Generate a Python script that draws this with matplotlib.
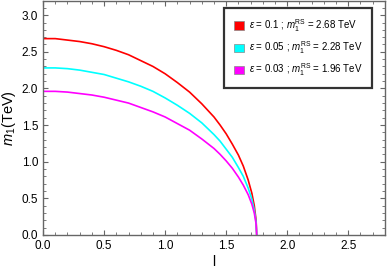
import matplotlib
matplotlib.use("Agg")
import matplotlib.pyplot as plt
from matplotlib.patches import Patch
from matplotlib.ticker import MultipleLocator

plt.rcParams['font.family'] = ['Liberation Sans', 'DejaVu Sans']
plt.rcParams['mathtext.fontset'] = 'custom'
plt.rcParams['mathtext.rm'] = 'Liberation Sans'
plt.rcParams['mathtext.it'] = 'Liberation Sans:italic'

l_vals = [0.0, 0.1, 0.2, 0.3, 0.4, 0.5, 0.6, 0.7, 0.8, 0.9, 1.0, 1.1, 1.2, 1.3, 1.4, 1.45,
          1.5, 1.55, 1.6, 1.64, 1.68, 1.71, 1.73, 1.745, 1.75]
m_red = [2.68, 2.68, 2.66, 2.64, 2.61, 2.57, 2.52, 2.46, 2.38, 2.30, 2.20, 2.08, 1.95, 1.79,
         1.61, 1.50, 1.38, 1.24, 1.09, 0.94, 0.75, 0.57, 0.40, 0.20, 0.0]
m_cyan = [2.28, 2.28, 2.27, 2.25, 2.22, 2.19, 2.14, 2.09, 2.03, 1.96, 1.87, 1.77, 1.66, 1.53,
          1.37, 1.28, 1.17, 1.06, 0.92, 0.80, 0.64, 0.49, 0.34, 0.17, 0.0]
m_mag = [1.96, 1.96, 1.95, 1.93, 1.91, 1.88, 1.84, 1.80, 1.74, 1.68, 1.61, 1.52, 1.43, 1.31,
         1.18, 1.10, 1.01, 0.91, 0.79, 0.68, 0.55, 0.42, 0.30, 0.15, 0.0]

labels = [r"$\epsilon$ = 0.1 ; $m_1^{\rm RS}$ = 2.68 TeV",
          r"$\epsilon$ = 0.05 ; $m_1^{\rm RS}$ = 2.28 TeV",
          r"$\epsilon$ = 0.03 ; $m_1^{\rm RS}$ = 1.96 TeV"]
colors = ['#ff0000', '#00ffff', '#ff00ff']

fig = plt.figure(figsize=(3.88, 2.70), dpi=100)
ax = fig.add_axes([0.111, 0.130, 0.881, 0.868])

for m, c in zip([m_red, m_cyan, m_mag], colors):
    ax.plot(l_vals, m, color=c, lw=1.2)

ax.set_xlim(0, 2.8)
ax.set_ylim(0, 3.2)
ax.xaxis.set_major_locator(MultipleLocator(0.5))
ax.xaxis.set_minor_locator(MultipleLocator(0.1))
ax.yaxis.set_major_locator(MultipleLocator(0.5))
ax.yaxis.set_minor_locator(MultipleLocator(0.1))
frame_c = '#666666'
for s in ax.spines.values():
    s.set_color(frame_c)
    s.set_linewidth(1.0)
ax.tick_params(which='both', direction='in', top=True, right=True, color=frame_c, labelsize=8.5)
ax.tick_params(which='major', length=3.5, width=0.8)
ax.tick_params(which='minor', length=2, width=0.6)

ax.set_xlabel("l", fontsize=10, labelpad=2)
ax.set_ylabel(r"$m_1$(TeV)", fontsize=10.5, labelpad=3)

handles = [Patch(facecolor=c, edgecolor='#888888', linewidth=0.5) for c in colors]
leg = ax.legend(handles, labels, loc='upper right', bbox_to_anchor=(0.962, 0.97),
                fontsize=7, frameon=True, fancybox=False, handlelength=1.0, handleheight=1.0,
                handletextpad=0.5, borderpad=1.0, labelspacing=0.55, borderaxespad=0)
leg.get_frame().set_edgecolor('black')
leg.get_frame().set_linewidth(1.6)

fig.savefig("out.png", dpi=100)
